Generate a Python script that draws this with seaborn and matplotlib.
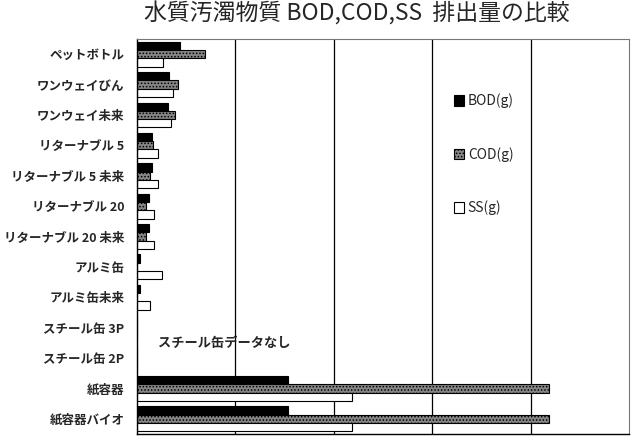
import pandas as pd
import numpy as np
import matplotlib
matplotlib.use("Agg")
import matplotlib.pyplot as plt
import seaborn as sns

# data (grams)
containers = ['ペットボトル', 'ワンウェイびん', 'ワンウェイ未来', 'リターナブル 5',
              'リターナブル 5 未来', 'リターナブル 20', 'リターナブル 20 未来',
              'アルミ缶', 'アルミ缶未来', 'スチール缶 3P', 'スチール缶 2P',
              '紙容器', '紙容器バイオ']
bod = [0.44, 0.33, 0.32, 0.15, 0.15, 0.12, 0.12, 0.03, 0.03, 0.0, 0.0, 1.53, 1.53]
cod = [0.69, 0.42, 0.39, 0.16, 0.13, 0.09, 0.09, 0.005, 0.005, 0.0, 0.0, 4.19, 4.19]
ss = [0.26, 0.37, 0.35, 0.21, 0.21, 0.17, 0.17, 0.25, 0.13, 0.0, 0.0, 2.18, 2.18]
series = ['BOD(g)', 'COD(g)', 'SS(g)']

df = pd.DataFrame({
    'container': containers * 3,
    'value': bod + cod + ss,
    'item': [s for s in series for _ in containers],
})

sns.set_theme(style='white')
plt.rcParams['font.family'] = ['Noto Sans CJK JP', 'DejaVu Sans']
plt.rcParams['hatch.linewidth'] = 0.7

fig = plt.figure(figsize=(6.32, 4.38), dpi=100)
ax = fig.add_axes([137 / 632, 1 - 434 / 438, 492 / 632, 395 / 438])

sns.barplot(data=df, x='value', y='container', hue='item', orient='h',
            palette=['black', '#858585', 'white'], order=containers,
            hue_order=series, width=0.82, edgecolor='black', linewidth=0.8,
            ax=ax, legend=True)

# COD bars get the dotted fill
for bar in ax.containers[1]:
    bar.set_hatch('.....')

ax.set_xlim(0, 5)
ax.set_xticks([1, 2, 3, 4])
ax.set_xticklabels([])
ax.tick_params(axis='x', length=0)
ax.tick_params(axis='y', length=3, pad=6)
ax.grid(axis='x', color='black', linewidth=0.9)
ax.set_axisbelow(True)
ax.set_xlabel('')
ax.set_ylabel('')
for lbl in ax.get_yticklabels():
    lbl.set_fontsize(9)
    lbl.set_fontweight('bold')

for side in ['left', 'bottom']:
    ax.spines[side].set_color('black')
    ax.spines[side].set_linewidth(1.0)
for side in ['top', 'right']:
    ax.spines[side].set_color('#777777')
    ax.spines[side].set_linewidth(0.8)

handles, labels = ax.get_legend_handles_labels()
if len(handles) > 1 and handles[1].get_hatch() is None:
    handles[1].set_hatch('.....')
ax.legend(handles, labels, loc='upper left', bbox_to_anchor=(0.63, 0.88),
          frameon=False, fontsize=10, labelspacing=2.8, handlelength=0.7,
          handleheight=0.8, handletextpad=0.3, borderpad=0)

ax.text(0.21, 9.5, 'スチール缶データなし', fontsize=9.5, fontweight='bold',
        va='center', ha='left')

fig.text(357 / 632, 1 - 14 / 438, '水質汚濁物質 BOD,COD,SS  排出量の比較',
         fontsize=16.5, ha='center', va='center')

fig.savefig('out.png', dpi=100)
